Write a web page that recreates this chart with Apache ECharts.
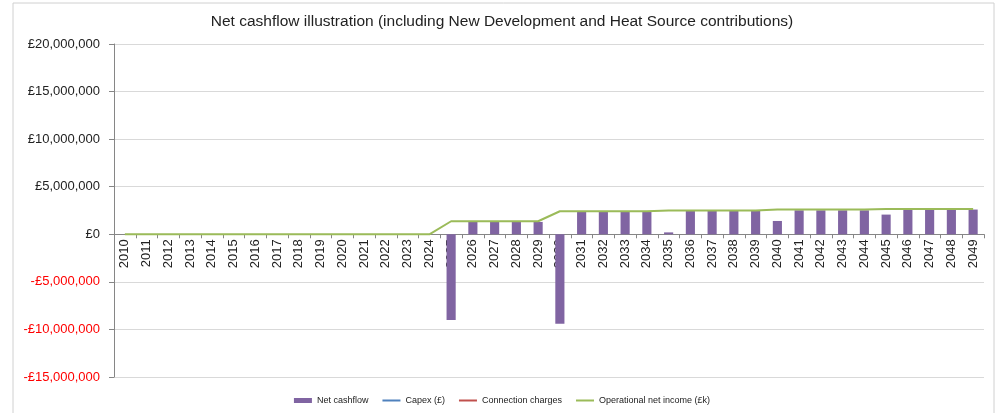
<!DOCTYPE html>
<html>
<head>
<meta charset="utf-8">
<script src="https://cdn.jsdelivr.net/npm/echarts@6/dist/echarts.min.js"></script>
<style>
  html, body { margin: 0; padding: 0; background: #fff; }
  #chart { width: 1004px; height: 413px; }
</style>
</head>
<body>
<div id="chart"></div>
<script>
  // years on the category axis
  var years = []
  for (var y = 2010; y <= 2049; y++) years.push(String(y))

  // net cashflow bars (£)
  var netCashflow = [
    0, 0, 0, 0, 0, 0, 0, 0, 0, 0,
    0, 0, 0, 0, 0, -9000000, 1300000, 1300000, 1300000, 1300000,
    -9400000, 2340000, 2340000, 2340000, 2340000, 200000, 2450000, 2450000, 2450000, 2450000,
    1400000, 2520000, 2520000, 2520000, 2520000, 2070000, 2600000, 2600000, 2600000, 2600000
  ]

  // operational net income line
  var operationalIncome = [
    0, 0, 0, 0, 0, 0, 0, 0, 0, 0,
    0, 0, 0, 0, 0, 1370000, 1370000, 1370000, 1370000, 1370000,
    2420000, 2420000, 2420000, 2420000, 2420000, 2500000, 2500000, 2500000, 2500000, 2500000,
    2600000, 2600000, 2600000, 2600000, 2600000, 2650000, 2650000, 2650000, 2650000, 2650000
  ]

  // capex and connection charges are not visible in the plot, legend only
  var capex = []
  var connectionCharges = []

  var yTicks = { min: -15000000, max: 20000000, step: 5000000 }

  var fmt = function (v) {
    var s = Math.abs(v).toString().replace(/\B(?=(\d{3})+(?!\d))/g, ',')
    return (v < 0 ? '-£' : '£') + s
  }

  // plot box
  var gridTop = 44, gridBottom = 36, chartH = 413
  var plotH = chartH - gridTop - gridBottom
  // distance of the zero line above the bottom of the plot
  var zeroFromBottom = plotH * (0 - yTicks.min) / (yTicks.max - yTicks.min)

  var lineItem = function (name, color) {
    return {
      name: name,
      itemStyle: { opacity: 0 },
      lineStyle: { color: color, width: 2, opacity: 1 }
    }
  }

  var chart = echarts.init(document.getElementById('chart'))
  chart.setOption({
    animation: false,
    textStyle: { fontFamily: 'Liberation Sans, Arial, sans-serif' },
    graphic: [{
      type: 'rect',
      shape: { x: 13, y: 3, width: 981, height: 420 },
      style: { fill: 'none', stroke: '#d0d0d0', lineWidth: 1 },
      silent: true
    }],
    title: {
      text: 'Net cashflow illustration (including New Development and Heat Source contributions)',
      left: 'center',
      top: 9,
      textStyle: {
        fontSize: 15.5,
        fontWeight: 'normal',
        color: '#222'
      }
    },
    legend: {
      bottom: 3,
      left: 'center',
      itemGap: 13,
      itemWidth: 18,
      itemHeight: 5,
      textStyle: { fontSize: 9, color: '#222' },
      data: [
        { name: 'Net cashflow', icon: 'rect' },
        lineItem('Capex (£)', '#4F81BD'),
        lineItem('Connection charges', '#C0504D'),
        lineItem('Operational net income (£k)', '#9BBB59')
      ]
    },
    grid: { left: 114, right: 20, top: gridTop, bottom: gridBottom, containLabel: false },
    xAxis: [
      {
        type: 'category',
        data: years,
        axisLine: { onZero: true, lineStyle: { color: '#868686' } },
        axisTick: { show: true, interval: 0, length: 4, lineStyle: { color: '#868686' } },
        axisLabel: { show: false }
      },
      {
        // label-only copy of the axis, shifted up to the zero line
        type: 'category',
        data: years,
        position: 'bottom',
        offset: -zeroFromBottom,
        axisLine: { show: false },
        axisTick: { show: false },
        axisLabel: { interval: 0, rotate: 90, fontSize: 13, color: '#222', margin: 5 }
      }
    ],
    yAxis: {
      type: 'value',
      min: yTicks.min,
      max: yTicks.max,
      interval: yTicks.step,
      axisLine: { show: true, lineStyle: { color: '#868686' } },
      axisTick: { show: true, inside: false, length: 5, lineStyle: { color: '#868686' } },
      splitLine: { lineStyle: { color: '#d9d9d9', width: 1 } },
      axisLabel: {
        fontSize: 13,
        margin: 14,
        formatter: fmt,
        color: function (v) { return Number(v) < 0 ? '#ff0000' : '#222' }
      }
    },
    series: [
      {
        name: 'Net cashflow',
        type: 'bar',
        data: netCashflow,
        barWidth: '42%',
        itemStyle: { color: '#8064A2' },
        z: 3
      },
      {
        name: 'Capex (£)',
        type: 'line',
        data: capex,
        symbol: 'none',
        lineStyle: { color: '#4F81BD', width: 2 },
        itemStyle: { color: '#4F81BD' }
      },
      {
        name: 'Connection charges',
        type: 'line',
        data: connectionCharges,
        symbol: 'none',
        lineStyle: { color: '#C0504D', width: 2 },
        itemStyle: { color: '#C0504D' }
      },
      {
        name: 'Operational net income (£k)',
        type: 'line',
        data: operationalIncome,
        symbol: 'none',
        lineStyle: { color: '#9BBB59', width: 2 },
        itemStyle: { color: '#9BBB59' },
        z: 4
      }
    ]
  })
</script>
</body>
</html>
